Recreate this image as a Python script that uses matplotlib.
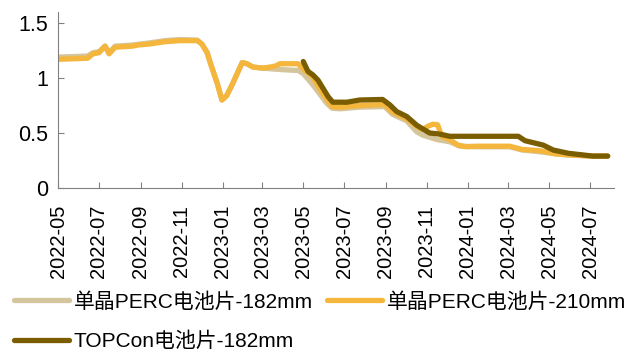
import pandas as pd
import matplotlib
matplotlib.use("Agg")
import matplotlib.pyplot as plt
import matplotlib.dates as mdates

plt.rcParams['font.family'] = ['Liberation Sans', 'Noto Sans CJK SC', 'DejaVu Sans']

# 单晶PERC电池片-182mm
perc182_dates = ["2022-05-01", "2022-06-14", "2022-06-22", "2022-07-01", "2022-07-10", "2022-07-16",
                 "2022-07-25", "2022-08-20", "2022-09-15", "2022-10-07", "2022-10-29", "2022-11-24",
                 "2022-12-01", "2022-12-09", "2022-12-13", "2022-12-24", "2022-12-31", "2023-01-07",
                 "2023-01-16", "2023-01-30", "2023-02-06", "2023-02-15", "2023-03-01", "2023-03-21",
                 "2023-04-17", "2023-04-23", "2023-05-01", "2023-05-15", "2023-06-05", "2023-06-13",
                 "2023-06-25", "2023-07-24", "2023-08-30", "2023-09-11", "2023-10-02", "2023-10-17",
                 "2023-10-26", "2023-11-16", "2023-12-05", "2023-12-20", "2024-01-14", "2024-03-03",
                 "2024-03-22", "2024-04-16", "2024-05-11", "2024-05-30", "2024-07-05", "2024-07-27"]
perc182_vals = [1.19, 1.20, 1.23, 1.24, 1.29, 1.23,
                1.29, 1.30, 1.32, 1.34, 1.35, 1.345,
                1.31, 1.23, 1.15, 0.95, 0.80, 0.84,
                0.95, 1.14, 1.13, 1.10, 1.09, 1.08,
                1.07, 1.07, 1.04, 0.94, 0.77, 0.725,
                0.72, 0.735, 0.74, 0.67, 0.61, 0.51,
                0.48, 0.44, 0.42, 0.38, 0.375, 0.375,
                0.345, 0.33, 0.31, 0.30, 0.29, 0.29]

# 单晶PERC电池片-210mm
perc210_dates = ["2022-05-01", "2022-06-14", "2022-06-22", "2022-07-01", "2022-07-10", "2022-07-16",
                 "2022-07-25", "2022-08-20", "2022-08-28", "2022-09-15", "2022-10-07", "2022-10-29",
                 "2022-11-24", "2022-12-01", "2022-12-09", "2022-12-13", "2022-12-24", "2022-12-31",
                 "2023-01-07", "2023-01-16", "2023-01-30", "2023-02-06", "2023-02-15", "2023-03-01",
                 "2023-03-13", "2023-03-21", "2023-03-27", "2023-04-23", "2023-04-30", "2023-05-15",
                 "2023-05-30", "2023-06-13", "2023-06-25", "2023-07-24", "2023-08-30", "2023-09-11",
                 "2023-10-02", "2023-10-17", "2023-10-26", "2023-11-02", "2023-11-10", "2023-11-17",
                 "2023-11-23", "2023-12-05", "2023-12-17", "2023-12-29", "2024-01-14", "2024-03-03",
                 "2024-03-22", "2024-04-16", "2024-05-11", "2024-05-30", "2024-07-05", "2024-07-27"]
perc210_vals = [1.17, 1.18, 1.22, 1.23, 1.29, 1.22,
                1.28, 1.29, 1.30, 1.31, 1.33, 1.34,
                1.34, 1.31, 1.23, 1.15, 0.95, 0.80,
                0.84, 0.95, 1.14, 1.13, 1.10, 1.09,
                1.10, 1.11, 1.13, 1.13, 1.09, 1.01,
                0.86, 0.74, 0.735, 0.75, 0.76, 0.69,
                0.63, 0.56, 0.53, 0.56, 0.58, 0.575,
                0.47, 0.44, 0.39, 0.375, 0.38, 0.38,
                0.35, 0.34, 0.31, 0.30, 0.29, 0.29]

# TOPCon电池片-182mm
topcon_dates = ["2023-05-01", "2023-05-08", "2023-05-15", "2023-05-23", "2023-06-07", "2023-06-14",
                "2023-07-05", "2023-07-24", "2023-08-27", "2023-09-07", "2023-09-17", "2023-10-02",
                "2023-10-17", "2023-11-05", "2023-11-20", "2023-12-05", "2024-03-16", "2024-03-26",
                "2024-04-22", "2024-05-07", "2024-05-30", "2024-07-05", "2024-07-27"]
topcon_vals = [1.15, 1.06, 1.03, 0.98, 0.83, 0.78,
               0.78, 0.80, 0.805, 0.755, 0.695, 0.65,
               0.57, 0.50, 0.49, 0.47, 0.47, 0.43,
               0.39, 0.345, 0.315, 0.29, 0.29]

labels = ["单晶PERC电池片-182mm", "单晶PERC电池片-210mm", "TOPCon电池片-182mm"]
colors = ["#D5C59C", "#F4B63C", "#7A5D00"]

fig = plt.figure(figsize=(6.34, 3.54), dpi=100)
ax = fig.add_axes([0.0915, 0.469, 0.8765, 0.497])

style = dict(lw=3.8, solid_capstyle='round', solid_joinstyle='round')
l1, = ax.plot(pd.to_datetime(perc182_dates), perc182_vals, color=colors[0], label=labels[0], **style)
l2, = ax.plot(pd.to_datetime(perc210_dates), perc210_vals, color=colors[1], label=labels[1], **style)
l3, = ax.plot(pd.to_datetime(topcon_dates), topcon_vals, color=colors[2], label=labels[2], **style)

ax.set_xlim(pd.Timestamp("2022-05-01"), pd.Timestamp("2024-08-05"))
ax.set_ylim(0, 1.6)
ax.set_yticks([0, 0.5, 1, 1.5])
ax.set_yticklabels(["0", "0.5", "1", "1.5"])
ax.xaxis.set_major_locator(mdates.MonthLocator(bymonth=[1, 3, 5, 7, 9, 11]))
ax.xaxis.set_major_formatter(mdates.DateFormatter('%Y-%m'))
plt.setp(ax.get_xticklabels(), rotation=90)

for s in ['top', 'right']:
    ax.spines[s].set_visible(False)
for s in ['left', 'bottom']:
    ax.spines[s].set_color('#808080')
ax.tick_params(direction='in', length=4.5, color='#808080', labelsize=14.5, labelcolor='black')
ax.tick_params(axis='x', pad=12)
ax.tick_params(axis='y', labelsize=15.5, pad=7)

# column-major fill: 182 / TOPCon in col 1, 210 in col 2
fig.legend([l1, l3, l2], [labels[0], labels[2], labels[1]],
           loc='upper left', bbox_to_anchor=(0.009, 0.198), ncol=2, frameon=False,
           fontsize=15, handlelength=2.65, handletextpad=0.2, columnspacing=0.7,
           labelspacing=0.94, borderaxespad=0)

fig.savefig("out.png", dpi=100)
